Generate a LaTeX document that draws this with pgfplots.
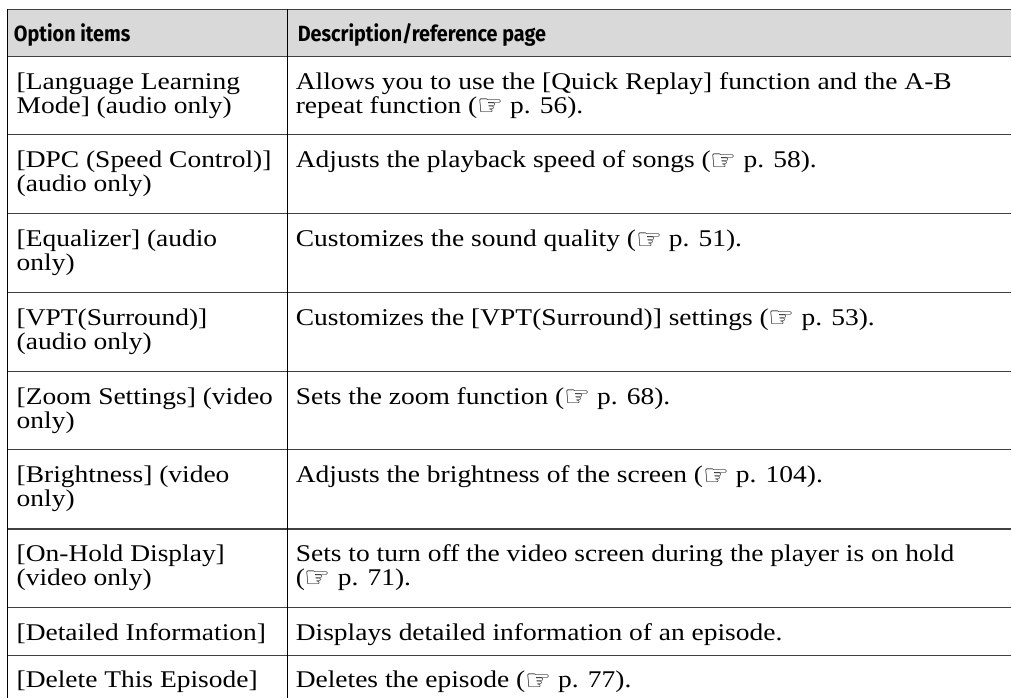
\documentclass[border=0pt]{standalone}
\usepackage{pgfplots}
\pgfplotsset{compat=1.18}
\usepackage{fontspec}
\setmainfont{Liberation Serif}[FakeStretch=1.145]
\newfontfamily\hdr{Fira Sans}[FakeStretch=0.90]
\newfontfamily\sym{DejaVu Sans}
\definecolor{headgray}{HTML}{D9D9D9}
\definecolor{rule}{HTML}{404040}
\newcommand\hand{\raisebox{-2.5pt}{\smash{\sym\fontsize{29}{29}\selectfont ☞}}}
\newcommand\body{\fontsize{24}{28}\selectfont}
\newcommand\head{\hdr\bfseries\fontsize{22}{26}\selectfont}
\tikzset{c/.style={anchor=base west,inner sep=0pt,outer sep=0pt,font=\body},
  h/.style={anchor=base west,inner sep=0pt,outer sep=0pt,font=\head}}
\begin{document}
\begin{tikzpicture}
\begin{axis}[x=1pt,y=1pt,
  xmin=0,xmax=1012,ymin=0,ymax=698,y dir=reverse,hide axis,clip=false]
\path (axis cs:0,0) rectangle (axis cs:1012,698);
% header band
\addplot[fill=headgray,draw=none] coordinates {(7.3,9.3)(1012,9.3)(1012,56.7)(7.3,56.7)} -- cycle;
% horizontal rules
\addplot[rule,line width=1.3pt] coordinates {(7.3,9.3)(1012,9.3)};
\addplot[rule,line width=1.3pt] coordinates {(7.3,56.7)(1012,56.7)};
\addplot[rule,line width=1.1pt] coordinates {(7.3,135)(1012,135)};
\addplot[rule,line width=1.1pt] coordinates {(7.3,214)(1012,214)};
\addplot[rule,line width=1.1pt] coordinates {(7.3,292.7)(1012,292.7)};
\addplot[rule,line width=1.1pt] coordinates {(7.3,371.7)(1012,371.7)};
\addplot[rule,line width=1.1pt] coordinates {(7.3,450)(1012,450)};
\addplot[rule,line width=1.1pt] coordinates {(7.3,529.3)(1012,529.3)};
\addplot[rule,line width=1.1pt] coordinates {(7.3,608.3)(1012,608.3)};
\addplot[rule,line width=1.1pt] coordinates {(7.3,655.7)(1012,655.7)};
% vertical rules
\addplot[black,line width=1.1pt] coordinates {(7.3,9.3)(7.3,698)};
\addplot[black,line width=1.1pt] coordinates {(287.3,9.3)(287.3,698)};
% header text
\node[h] at (axis cs:14,42) {Option items};
\node[h] at (axis cs:298,42) {Description/reference page};
% rows
\node[c] at (axis cs:16.7,89.5) {[Language Learning};
\node[c] at (axis cs:16.7,113.5) {Mode] (audio only)};
\node[c] at (axis cs:296,89.5) {Allows you to use the [Quick Replay] function and the A-B};
\node[c] at (axis cs:296,113.5) {repeat function (\hand{} p. 56).};

\node[c] at (axis cs:16.7,168) {[DPC (Speed Control)]};
\node[c] at (axis cs:16.7,192) {(audio only)};
\node[c] at (axis cs:296,168) {Adjusts the playback speed of songs (\hand{} p. 58).};

\node[c] at (axis cs:16.7,247) {[Equalizer] (audio};
\node[c] at (axis cs:16.7,271) {only)};
\node[c] at (axis cs:296,247) {Customizes the sound quality (\hand{} p. 51).};

\node[c] at (axis cs:16.7,325.7) {[VPT(Surround)]};
\node[c] at (axis cs:16.7,349.7) {(audio only)};
\node[c] at (axis cs:296,325.7) {Customizes the [VPT(Surround)] settings (\hand{} p. 53).};

\node[c] at (axis cs:16.7,404.7) {[Zoom Settings] (video};
\node[c] at (axis cs:16.7,428.7) {only)};
\node[c] at (axis cs:296,404.7) {Sets the zoom function (\hand{} p. 68).};

\node[c] at (axis cs:16.7,483) {[Brightness] (video};
\node[c] at (axis cs:16.7,507) {only)};
\node[c] at (axis cs:296,483) {Adjusts the brightness of the screen (\hand{} p. 104).};

\node[c] at (axis cs:16.7,561.5) {[On-Hold Display]};
\node[c] at (axis cs:16.7,585.5) {(video only)};
\node[c] at (axis cs:296,561.5) {Sets to turn off the video screen during the player is on hold};
\node[c] at (axis cs:296,585.5) {(\hand{} p. 71).};

\node[c] at (axis cs:16.7,640.5) {[Detailed Information]};
\node[c] at (axis cs:296,640.5) {Displays detailed information of an episode.};

\node[c] at (axis cs:16.7,688) {[Delete This Episode]};
\node[c] at (axis cs:296,688) {Deletes the episode (\hand{} p. 77).};
\end{axis}
\end{tikzpicture}
\end{document}
